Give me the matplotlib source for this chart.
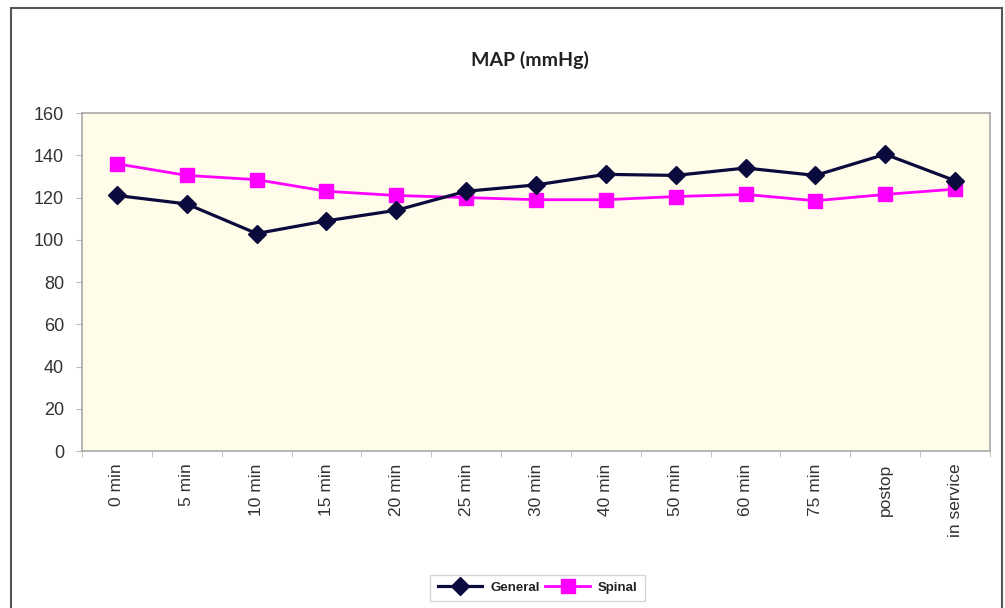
import matplotlib
matplotlib.use("Agg")
import matplotlib.pyplot as plt
from matplotlib.patches import Rectangle
import numpy as np

categories = ["0 min", "5 min", "10 min", "15 min", "20 min", "25 min", "30 min",
              "40 min", "50 min", "60 min", "75 min", "postop", "in service"]
general = [121, 117, 103, 109, 114, 123, 126, 131, 130.5, 134, 130.5, 140.5, 128]
spinal = [136, 130.5, 128.5, 123, 121, 120, 119, 119, 120.5, 121.5, 118.5, 121.5, 124]
y_ticks = [0, 20, 40, 60, 80, 100, 120, 140, 160]

plt.rcParams['font.family'] = ['Liberation Sans', 'DejaVu Sans']

fig = plt.figure(figsize=(10.05, 6.08), dpi=100)
fig.patch.set_facecolor('white')

# outer chart border
fig.patches.append(Rectangle((0.011, -0.01), 0.986, 0.997, transform=fig.transFigure,
                             fill=False, edgecolor='#555555', linewidth=1.5))

ax = fig.add_axes([0.0816, 0.258, 0.9035, 0.556])
ax.set_facecolor('#fffdea')

x = np.arange(len(categories))
ax.plot(x, general, color='#0a0a3c', linewidth=2.3, marker='D', markersize=9,
        label='General', zorder=3)
ax.plot(x, spinal, color='#ff00ff', linewidth=2.0, marker='s', markersize=10,
        label='Spinal', zorder=2)

ax.set_ylim(0, 160)
ax.set_yticks(y_ticks)
ax.set_xlim(-0.49, 12.31)
ax.set_xticks(x)
ax.set_xticklabels(categories, rotation=90)
ax.set_xticks(np.arange(-0.5, len(categories), 1), minor=True)
ax.tick_params(axis='x', which='major', length=0, pad=9, labelsize=12.5, labelcolor='#333333')
ax.tick_params(axis='x', which='minor', length=4, color='#bbbbbb')
ax.tick_params(axis='y', length=4, color='#bbbbbb', labelsize=13, labelcolor='#333333', pad=9)

for s in ax.spines.values():
    s.set_color('#a8a8a8')
    s.set_linewidth(1.2)

fig.text(0.527, 0.901, 'MAP (mmHg)', ha='center', va='center', fontsize=14,
         fontweight='bold', family=['Lato', 'DejaVu Sans'], color='#222222')

leg = fig.legend(loc='center', bbox_to_anchor=(0.535, 0.033), ncol=2, frameon=True,
                 fancybox=False, edgecolor='#cccccc', handlelength=3.4,
                 columnspacing=0.4, handletextpad=0.6, borderpad=0.55,
                 prop={'weight': 'bold', 'size': 9.5})
for t in leg.get_texts():
    t.set_color('#222222')

fig.savefig('out.png', dpi=100, facecolor='white')
